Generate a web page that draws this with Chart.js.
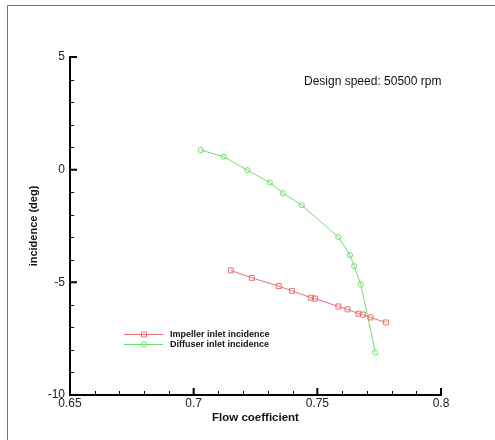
<!DOCTYPE html>
<html>
<head>
<meta charset="utf-8">
<script src="https://cdn.jsdelivr.net/npm/chart.js@4"></script>
<style>
  html, body { margin: 0; padding: 0; background: #fff; }
  #wrap { width: 495px; height: 440px; position: relative; }
</style>
</head>
<body>
<div id="wrap"><canvas id="chart" width="495" height="440"></canvas></div>
<script>
// flow coefficient / incidence
const impellerFlow = [0.7150, 0.7235, 0.7344, 0.7397, 0.7474, 0.7490, 0.7585, 0.7622, 0.7666, 0.7684, 0.7715, 0.7777];
const impellerInc  = [-4.47, -4.80, -5.17, -5.38, -5.68, -5.72, -6.07, -6.20, -6.39, -6.43, -6.56, -6.78];
const diffuserFlow = [0.7029, 0.7121, 0.7217, 0.7308, 0.7360, 0.7437, 0.7585, 0.7632, 0.7649, 0.7676, 0.7734];
const diffuserInc  = [0.87, 0.575, -0.02, -0.57, -1.04, -1.58, -2.99, -3.79, -4.28, -5.10, -8.11];
const seriesNames = ['Impeller inlet incidence', 'Diffuser inlet incidence'];
const xTicks = [0.65, 0.7, 0.75, 0.8];
const yTicks = [5, 0, -5, -10];
const xMinor = [0.66, 0.67, 0.68, 0.69, 0.71, 0.72, 0.73, 0.74, 0.76, 0.77, 0.78, 0.79];
const yMinor = [4, 3, 2, 1, -1, -2, -3, -4, -6, -7, -8, -9];

const RED = '#e87070';
const GREEN = '#6fe06f';
const FONT = '"Liberation Sans", Arial, sans-serif';

const toPts = (xs, ys) => xs.map((x, i) => ({ x: x, y: ys[i] }));

// frame, inward ticks, legend and note
const extras = {
    id: 'extras',
    beforeDraw(chart) {
        const ctx = chart.ctx;
        ctx.save();
        ctx.strokeStyle = '#777';
        ctx.lineWidth = 1;
        ctx.beginPath();
        ctx.moveTo(7.5, 440);
        ctx.lineTo(7.5, 5.5);
        ctx.lineTo(495, 5.5);
        ctx.stroke();
        ctx.restore();
    },
    afterDraw(chart) {
        const ctx = chart.ctx;
        const xs = chart.scales.x, ys = chart.scales.y;
        const left = xs.left, bottom = ys.bottom;
        ctx.save();
        ctx.strokeStyle = '#000';
        ctx.lineWidth = 2;
        ctx.beginPath();
        xTicks.forEach(v => { const p = xs.getPixelForValue(v); ctx.moveTo(p, bottom); ctx.lineTo(p, bottom - 7); });
        yTicks.forEach(v => { const p = ys.getPixelForValue(v); ctx.moveTo(left, p); ctx.lineTo(left + 7, p); });
        ctx.stroke();
        ctx.lineWidth = 1;
        ctx.beginPath();
        xMinor.forEach(v => { const p = Math.round(xs.getPixelForValue(v)) + 0.5; ctx.moveTo(p, bottom); ctx.lineTo(p, bottom - 4); });
        yMinor.forEach(v => { const p = Math.round(ys.getPixelForValue(v)) + 0.5; ctx.moveTo(left, p); ctx.lineTo(left + 4, p); });
        ctx.stroke();

        // legend
        const items = [[RED, 'rect', 334], [GREEN, 'circle', 344]];
        items.forEach((it, i) => {
            ctx.strokeStyle = it[0];
            ctx.fillStyle = 'rgba(0,0,0,0)';
            ctx.lineWidth = 1;
            ctx.beginPath();
            ctx.moveTo(124, it[2] + 0.5);
            ctx.lineTo(163, it[2] + 0.5);
            ctx.stroke();
            Chart.helpers.drawPoint(ctx, { pointStyle: it[1], radius: it[1] === 'rect' ? 3.5 : 2.6, borderWidth: 1 }, 144, it[2] + 0.5);
            ctx.fillStyle = '#111';
            ctx.font = 'bold 9px ' + FONT;
            ctx.textBaseline = 'middle';
            ctx.textAlign = 'left';
            ctx.fillText(seriesNames[i], 170, it[2] + 1);
        });

        ctx.fillStyle = '#111';
        ctx.font = '12px ' + FONT;
        ctx.textAlign = 'left';
        ctx.textBaseline = 'middle';
        ctx.fillText('Design speed: 50500 rpm', 304, 82);
        ctx.restore();
    }
};

new Chart(document.getElementById('chart').getContext('2d'), {
    type: 'scatter',
    data: {
        datasets: [{
            label: seriesNames[0],
            data: toPts(impellerFlow, impellerInc),
            showLine: true,
            borderColor: RED,
            backgroundColor: 'rgba(0,0,0,0)',
            borderWidth: 1,
            pointStyle: 'rect',
            pointRadius: 3.5,
            pointBorderWidth: 1,
            pointBorderColor: RED
        }, {
            label: seriesNames[1],
            data: toPts(diffuserFlow, diffuserInc),
            showLine: true,
            borderColor: GREEN,
            backgroundColor: 'rgba(0,0,0,0)',
            borderWidth: 1,
            pointStyle: 'circle',
            pointRadius: 2.6,
            pointBorderWidth: 1,
            pointBorderColor: GREEN
        }]
    },
    options: {
        responsive: false,
        animation: false,
        layout: { padding: { left: 0, top: 57, right: 54, bottom: 0 } },
        plugins: { legend: { display: false }, tooltip: { enabled: false } },
        scales: {
            x: {
                type: 'linear',
                min: 0.65, max: 0.8,
                afterBuildTicks: s => { s.ticks = xTicks.map(v => ({ value: v })); },
                afterFit: s => { s.height = 45; },
                grid: { display: false },
                border: { display: true, color: '#000', width: 2 },
                ticks: {
                    padding: -7,
                    color: '#222',
                    font: { family: FONT, size: 12 },
                    callback: v => String(v)
                },
                title: {
                    display: true,
                    text: 'Flow coefficient',
                    color: '#111',
                    padding: { top: 0, bottom: 15 },
                    font: { family: FONT, size: 11.5, weight: 'bold' }
                }
            },
            y: {
                type: 'linear',
                min: -10, max: 5,
                afterBuildTicks: s => { s.ticks = yTicks.map(v => ({ value: v })); },
                afterFit: s => { s.width = 70; },
                grid: { display: false },
                border: { display: true, color: '#000', width: 2 },
                ticks: {
                    padding: -3,
                    color: '#222',
                    font: { family: FONT, size: 12 },
                    callback: v => String(v)
                },
                title: {
                    display: true,
                    text: 'incidence (deg)',
                    color: '#111',
                    padding: { top: 27, bottom: 0 },
                    font: { family: FONT, size: 11, weight: 'bold' }
                }
            }
        }
    },
    plugins: [extras]
});
</script>
</body>
</html>
